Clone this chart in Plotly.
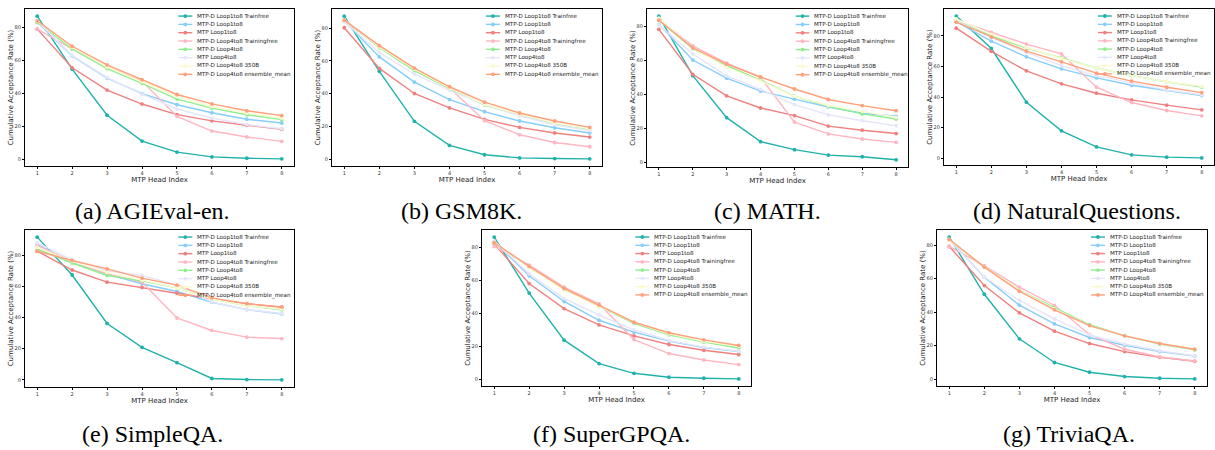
import plotly.graph_objects as go

heads = [1, 2, 3, 4, 5, 6, 7, 8]

series_names = [
    "MTP-D Loop1to8 Trainfree",
    "MTP-D Loop1to8",
    "MTP Loop1to8",
    "MTP-D Loop4to8 Trainingfree",
    "MTP-D Loop4to8",
    "MTP Loop4to8",
    "MTP-D Loop4to8 350B",
    "MTP-D Loop4to8 ensemble_mean",
]
series_colors = ["#20b2aa", "#87cefa", "#f08080", "#ffb6c1",
                 "#90ee90", "#e6e6fa", "#fafad2", "#ffa07a"]

# one list per benchmark, rows in the order of series_names
agieval = [
    [86.9, 54.7, 26.7, 11.0, 4.3, 1.4, 0.6, 0.2],
    [83.3, 62.7, 49.2, 39.8, 33.1, 28.2, 24.3, 22.0],
    [79.0, 55.5, 42.0, 33.5, 27.1, 23.3, 20.6, 18.2],
    [79.0, 67.0, 56.0, 47.5, 26.0, 17.1, 13.5, 10.8],
    [83.0, 67.0, 55.0, 46.0, 36.5, 31.0, 27.0, 24.0],
    [84.0, 63.0, 49.5, 39.5, 30.5, 25.0, 21.0, 18.5],
    [84.0, 68.0, 56.0, 47.0, 38.0, 32.0, 28.0, 25.0],
    [84.0, 68.6, 57.3, 48.3, 39.3, 33.6, 29.4, 26.5],
]
gsm8k = [
    [87.3, 53.6, 23.1, 8.4, 2.7, 0.8, 0.4, 0.2],
    [84.5, 62.4, 47.0, 36.4, 29.0, 23.3, 19.2, 16.0],
    [80.2, 55.4, 40.1, 31.3, 24.3, 19.4, 16.0, 13.5],
    [84.0, 69.0, 55.0, 43.6, 23.5, 14.9, 10.2, 7.6],
    [85.0, 68.0, 54.0, 43.0, 33.0, 27.0, 21.5, 18.0],
    [84.0, 65.0, 52.0, 42.0, 33.5, 26.5, 21.0, 17.5],
    [85.0, 68.5, 55.0, 43.5, 33.5, 27.5, 22.0, 18.5],
    [84.9, 69.3, 55.6, 44.2, 34.8, 28.2, 23.3, 19.4],
]
math_ds = [
    [86.2, 51.1, 26.3, 12.1, 7.4, 4.2, 3.2, 1.4],
    [81.4, 60.3, 49.6, 42.0, 37.2, 32.6, 28.9, 27.1],
    [78.4, 51.9, 39.2, 32.0, 27.5, 21.3, 18.9, 16.9],
    [84.0, 68.7, 58.5, 50.1, 23.7, 16.7, 13.7, 11.7],
    [84.0, 67.0, 57.0, 48.5, 39.0, 33.0, 28.5, 25.5],
    [81.0, 64.0, 51.0, 43.0, 34.0, 28.0, 24.5, 21.5],
    [85.0, 67.5, 56.0, 48.0, 39.0, 33.5, 30.0, 26.5],
    [83.8, 67.5, 57.9, 50.3, 43.2, 37.0, 33.4, 30.4],
]
naturalq = [
    [92.9, 71.7, 36.6, 17.9, 7.4, 2.2, 0.7, 0.2],
    [89.2, 76.5, 66.3, 58.4, 52.5, 47.7, 44.3, 41.0],
    [85.0, 69.8, 57.1, 48.6, 42.5, 38.1, 34.7, 31.6],
    [90.0, 82.2, 74.6, 68.2, 46.4, 36.4, 31.2, 27.7],
    [90.0, 80.0, 72.0, 65.5, 59.0, 54.0, 50.0, 46.5],
    [90.0, 79.0, 69.0, 60.5, 54.0, 49.0, 44.5, 41.5],
    [91.0, 81.0, 72.5, 65.0, 59.0, 54.0, 50.0, 47.0],
    [88.9, 79.3, 70.0, 63.0, 55.6, 50.4, 46.4, 42.9],
]
simpleqa = [
    [91.6, 67.3, 36.2, 20.9, 11.0, 0.9, 0.2, 0.0],
    [86.9, 75.3, 67.9, 61.7, 56.7, 49.8, 45.1, 42.3],
    [82.6, 70.5, 62.7, 59.3, 55.6, 52.0, 48.9, 46.6],
    [86.3, 76.0, 68.0, 62.7, 39.7, 31.7, 27.4, 26.5],
    [84.0, 75.0, 67.0, 63.5, 59.0, 52.0, 47.5, 45.0],
    [88.0, 77.0, 70.0, 67.0, 61.0, 50.0, 45.0, 42.5],
    [85.0, 76.0, 69.0, 64.0, 59.0, 52.0, 47.5, 45.5],
    [82.6, 76.6, 71.2, 65.3, 60.8, 52.6, 48.9, 46.8],
]
supergpqa = [
    [86.3, 52.3, 23.7, 9.5, 3.6, 1.2, 0.6, 0.2],
    [83.6, 62.8, 47.2, 35.8, 28.6, 23.1, 19.2, 16.8],
    [82.2, 58.1, 42.9, 33.0, 26.3, 21.1, 17.6, 15.0],
    [80.6, 69.3, 55.9, 45.8, 24.1, 15.6, 11.7, 8.9],
    [83.0, 68.0, 54.5, 44.0, 34.0, 27.0, 22.5, 19.0],
    [84.0, 64.0, 49.0, 39.0, 30.0, 23.5, 19.5, 17.0],
    [83.0, 68.0, 54.0, 44.0, 34.5, 27.5, 23.0, 20.0],
    [83.0, 68.5, 55.1, 45.0, 34.6, 28.2, 23.9, 20.5],
]
triviaqa = [
    [84.8, 50.7, 24.1, 10.0, 4.2, 1.6, 0.6, 0.2],
    [83.4, 60.9, 44.2, 33.0, 24.9, 20.3, 16.5, 13.9],
    [79.2, 55.9, 39.6, 28.7, 21.3, 16.5, 13.1, 10.7],
    [79.2, 67.7, 54.9, 44.0, 26.7, 17.9, 13.3, 10.9],
    [83.5, 67.0, 53.0, 42.5, 32.5, 26.0, 21.0, 17.5],
    [83.0, 61.0, 47.0, 36.0, 26.5, 21.0, 17.0, 14.0],
    [83.0, 67.0, 53.0, 42.0, 32.0, 26.0, 21.5, 18.0],
    [83.4, 66.9, 52.5, 41.4, 32.0, 25.9, 21.3, 17.9],
]

captions = ["(a) AGIEval-en.", "(b) GSM8K.", "(c) MATH.", "(d) NaturalQuestions.",
            "(e) SimpleQA.", "(f) SuperGPQA.", "(g) TriviaQA."]
datasets = [agieval, gsm8k, math_ds, naturalq, simpleqa, supergpqa, triviaqa]

W, H = 1215, 450
# panel frames in pixels: (left, right, top, bottom)
frames = [
    (25, 294, 9, 166),
    (332, 602, 9, 166),
    (647, 908, 9, 167),
    (944, 1214, 9, 165),
    (25, 294, 230, 387),
    (482, 751, 230, 386),
    (937, 1207, 230, 386),
]
caption_pos = [(152, 211), (461, 211), (767, 211), (1077, 211),
               (153, 434), (611, 434), (1069, 434)]

fig = go.Figure()
layout = dict(
    width=W, height=H,
    margin=dict(l=0, r=0, t=0, b=0),
    paper_bgcolor="white", plot_bgcolor="white",
    showlegend=False,
    font=dict(family="DejaVu Sans", color="#222"),
)
shapes = []
annotations = []

for k, (data, frame) in enumerate(zip(datasets, frames)):
    idx = "" if k == 0 else str(k + 1)
    xa, ya = "x" + idx, "y" + idx
    for s, (name, color) in enumerate(zip(series_names, series_colors)):
        fig.add_trace(go.Scatter(
            x=heads, y=data[s], name=name, mode="lines+markers",
            line=dict(color=color, width=1.4),
            marker=dict(color=color, size=3.8, symbol="circle"),
            xaxis=xa, yaxis=ya,
        ))
    allv = [v for row in data for v in row]
    lo, hi = min(allv), max(allv)
    pad = 0.05 * (hi - lo)
    l, r, t, b = frame
    axis_common = dict(
        showline=True, mirror=True, linecolor="black", linewidth=1.2,
        ticks="outside", ticklen=2, tickwidth=0.6, tickcolor="black",
        tickfont=dict(size=5, color="#333"),
        showgrid=False, zeroline=False,
    )
    layout["xaxis" + idx] = dict(
        axis_common, domain=[l / W, r / W], anchor=ya,
        range=[0.65, 8.35], tickmode="array", tickvals=heads,
        title=dict(text="MTP Head Index", font=dict(size=7, color="#222"), standoff=0),
    )
    layout["yaxis" + idx] = dict(
        axis_common, domain=[1 - b / H, 1 - t / H], anchor=xa,
        range=[lo - pad, hi + pad], tickmode="array", tickvals=[0, 20, 40, 60, 80],
        title=dict(text="Cumulative Acceptance Rate (%)", font=dict(size=7, color="#222"), standoff=0),
    )
    # compact legend inside the top-right of each panel
    xr, yr = xa + " domain", ya + " domain"
    for s, (name, color) in enumerate(zip(series_names, series_colors)):
        yy = 1 - 0.045 - s * 0.053
        shapes.append(dict(type="line", xref=xr, yref=yr, x0=0.57, x1=0.622, y0=yy, y1=yy,
                           line=dict(color=color, width=1.4)))
        shapes.append(dict(type="circle", xref=xr, yref=yr, xsizemode="pixel", ysizemode="pixel",
                           xanchor=0.596, yanchor=yy, x0=-1.9, x1=1.9, y0=-1.9, y1=1.9,
                           fillcolor=color, line=dict(width=0)))
        annotations.append(dict(text=name, xref=xr, yref=yr, x=0.632, y=yy,
                                xanchor="left", yanchor="middle", showarrow=False,
                                font=dict(size=5.6, color="#222")))
    cx, cy = caption_pos[k]
    annotations.append(dict(text=captions[k], xref="paper", yref="paper",
                            x=cx / W, y=1 - cy / H, xanchor="center", yanchor="middle",
                            showarrow=False,
                            font=dict(family="Liberation Serif", size=24, color="black")))

layout["shapes"] = shapes
layout["annotations"] = annotations
fig.update_layout(**layout)
fig.write_html("out.html", config={"displayModeBar": False},
               post_script="document.body.style.margin='0';")
